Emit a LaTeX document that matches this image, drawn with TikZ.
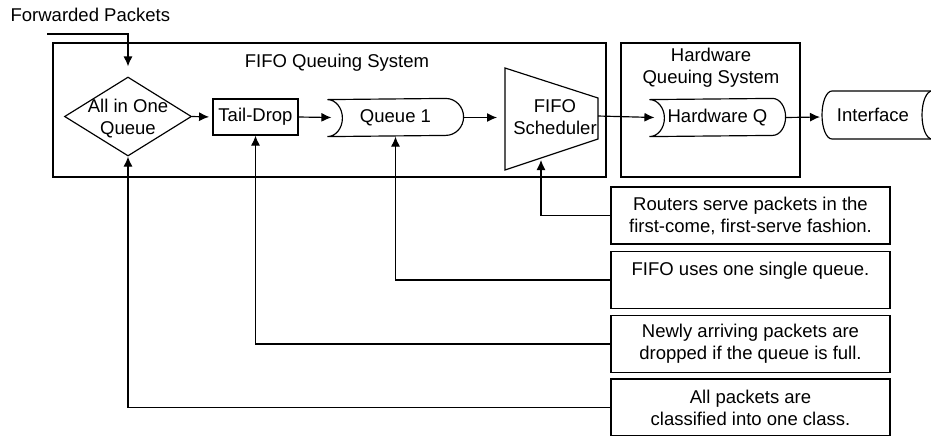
\documentclass[tikz,border=0pt]{standalone}
\usepackage{fontspec}
\setmainfont{Liberation Sans}
\usetikzlibrary{arrows.meta,shapes.geometric}

% outline of a queue round a named node: #1 node, #2 right end radius
\newcommand{\queueline}[2]{%
\draw (#1.south west) arc[start angle=-90,end angle=90,x radius=15,y radius=18.5]
  -- ([xshift=-#2*0.03cm]#1.north east) arc[start angle=90,end angle=-90,x radius=#2,y radius=18.5]
  -- cycle;}

\begin{document}
\begin{tikzpicture}[x=0.03cm,y=0.03cm,line width=1pt,
  every node/.style={font=\fontsize{15.8}{18.8}\selectfont,inner sep=0pt},
  >={Latex[length=0.3cm,width=0.27cm]},
  box/.style={draw,minimum width=2.55cm,minimum height=1.08cm},
  note/.style={draw,minimum width=8.37cm,minimum height=1.71cm,align=center},
  qtext/.style={minimum width=4.05cm,minimum height=1.11cm}]

\useasboundingbox (0,0) rectangle (931,-435);

% the two systems
\draw (53,-43) rectangle (606,-177);
\draw (621,-43) rectangle (800,-177);
\node (fifot) at (337,-63) {FIFO Queuing System};
\node[align=center] (hwt) at (711,-68) {Hardware\\Queuing System};

\node[anchor=base west] (fwd) at (10,-21) {Forwarded Packets};
\coordinate (in) at (47,-34);

\node[diamond,draw,minimum width=3.81cm,minimum height=2.37cm] (aio) at (128,-116.5) {};
\node[align=center] (aiot) at (128,-119) {All in One\\Queue};

\node[box] (td) at (255.5,-117) {Tail-Drop};

\node[qtext] (q1) at (395.5,-117.5) {Queue 1};
\queueline{q1}{18}

% scheduler
\coordinate (s1) at (505,-68);
\coordinate (s2) at (598,-98);
\coordinate (s3) at (598,-139);
\coordinate (s4) at (505,-170);
\draw (s1) -- (s2) -- (s3) -- (s4) -- cycle;
\node[align=center] (sch) at (555,-117) {FIFO\\Scheduler};
\coordinate (schout) at (598,-116);
\coordinate (schin) at (541,-160);

\node[qtext] (hwq) at (717.5,-117.5) {Hardware Q};
\queueline{hwq}{13}

% interface
\draw (932,-91) -- (832,-91) arc[start angle=90,end angle=270,x radius=10,y radius=24] -- (932,-139);
\draw (932,-115) ellipse[x radius=10,y radius=24];
\node (intf) at (873,-115) {Interface};
\coordinate (ifin) at (820,-117);

\draw[->,shorten >=0.3cm] (in) -| (aio.north);
\draw[->,shorten >=0.1cm] (aio.east) -- (td.west);
\draw[->] (td.east) -- ([xshift=0.12cm]q1.west);
\draw[->,shorten >=0.24cm] (q1.east) -- (q1.east -| s1);
\draw[->] (schout) -- ([xshift=0.15cm]hwq.west);
\draw[->] (hwq.east) -- (ifin);

% notes
\node[note] (n1) at (750.5,-215.5) {Routers serve packets in the\\first-come, first-serve fashion.};
\node[note] (n2) at (750.5,-280) {FIFO uses one single queue.\\~};
\node[note] (n3) at (750.5,-344) {Newly arriving packets are\\dropped if the queue is full.};
\node[note] (n4) at (750.5,-407.5) {All packets are\\classified into one class.};

\draw[->] (n1.west) -| (schin);
\draw[->] (n2.west) -| (q1.south);
\draw[->] (n3.west) -| (td.south);
\draw[->] (n4.west) -| (aio.south);

\end{tikzpicture}
\end{document}
